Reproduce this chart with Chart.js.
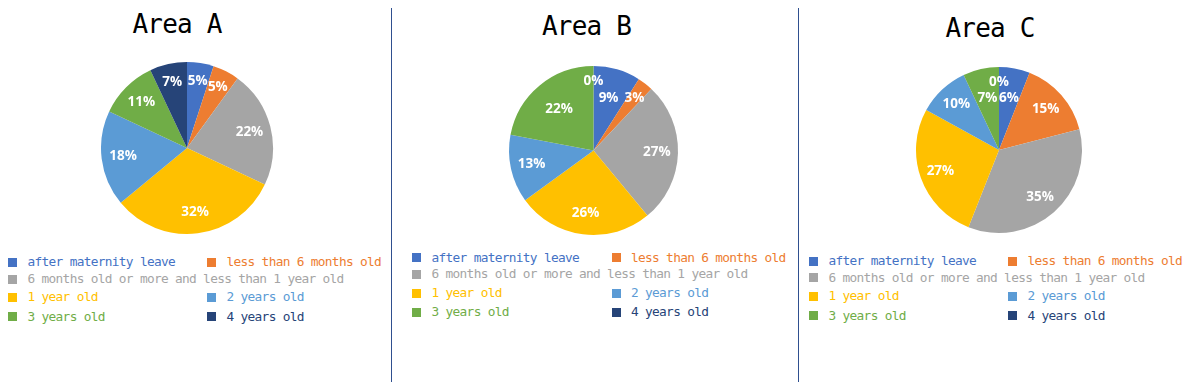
<!DOCTYPE html>
<html>
<head>
<meta charset="utf-8">
<script src="https://cdn.jsdelivr.net/npm/chart.js@4/dist/chart.umd.min.js"></script>
<style>
  html, body { margin: 0; padding: 0; background: #fff; }
  #stage { position: relative; width: 1198px; height: 392px; overflow: hidden; background: #fff; }
  .title { position: absolute; width: 200px; text-align: center; font-family: "DejaVu Sans Mono", "Liberation Mono", monospace; font-size: 26px; line-height: 30px; letter-spacing: -0.8px; color: #000; }
  .pie { position: absolute; }
  .leg { position: absolute; height: 18px; line-height: 18px; display: flex; align-items: center; white-space: nowrap; font-family: "DejaVu Sans Mono", "Liberation Mono", monospace; font-size: 12.8px; letter-spacing: -0.68px; }
  .leg i { display: inline-block; width: 9px; height: 9px; margin-right: 10.5px; }
  .divider { position: absolute; width: 1px; background: #2f4f8f; }
</style>
</head>
<body>
<div id="stage"></div>
<script>
// ---- data ----
const categories = [
  "after maternity leave",
  "less than 6 months old",
  "6 months old or more and less than 1 year old",
  "1 year old",
  "2 years old",
  "3 years old",
  "4 years old"
];
const areaTitles = ["Area A", "Area B", "Area C"];
const areaA = [5, 5, 22, 32, 18, 11, 7];
const areaB = [9, 3, 27, 26, 13, 22, 0];
const areaC = [6, 15, 35, 27, 10, 7, 0];

// ---- styles / layout ----
const colors = ["#4472C4", "#ED7D31", "#A5A5A5", "#FFC000", "#5B9BD5", "#70AD47", "#264478"];
const panels = [
  { values: areaA, cx: 187,   cy: 148,   r: 86,   titleX: 177,   titleTop: 9,
    legCol: [8, 207],   legRows: [262, 279.3, 297.3, 316.5] },
  { values: areaB, cx: 593.5, cy: 150.5, r: 84.5, titleX: 586.5, titleTop: 11,
    legCol: [412, 611.5], legRows: [257.7, 274.3, 293, 312.3] },
  { values: areaC, cx: 999,   cy: 150,   r: 83,   titleX: 990,   titleTop: 12.5,
    legCol: [809, 1008], legRows: [261, 277.7, 296.3, 315.8] }
];
// legend grid: [row, col] per category
const legendSlots = [[0,0],[0,1],[1,0],[2,0],[2,1],[3,0],[3,1]];
const dividers = [{ x: 391, top: 8, bottom: 382 }, { x: 798, top: 8, bottom: 382 }];

const stage = document.getElementById('stage');

dividers.forEach(d => {
  const el = document.createElement('div');
  el.className = 'divider';
  el.style.left = d.x + 'px';
  el.style.top = d.top + 'px';
  el.style.height = (d.bottom - d.top) + 'px';
  stage.appendChild(el);
});

// percentage labels: zero-size slices sit near the rim, their neighbours are pulled inward
const pctLabels = {
  id: 'pctLabels',
  afterDatasetsDraw(chart) {
    const ctx = chart.ctx;
    const ds = chart.data.datasets[0];
    const vals = ds.data;
    const n = vals.length;
    const total = vals.reduce((a, b) => a + b, 0);
    const meta = chart.getDatasetMeta(0);
    ctx.save();
    ctx.font = 'bold 13.5px "Open Sans", "DejaVu Sans", sans-serif';
    ctx.fillStyle = '#fff';
    ctx.textAlign = 'center';
    ctx.textBaseline = 'middle';
    meta.data.forEach((arc, i) => {
      const p = arc.getProps(['x', 'y', 'startAngle', 'endAngle', 'outerRadius'], true);
      const mid = (p.startAngle + p.endAngle) / 2;
      let f = 0.75;
      if (vals[i] === 0) f = 0.82;
      else if (vals[(i + 1) % n] === 0 || vals[(i - 1 + n) % n] === 0) f = 0.64;
      else if (vals[i] / total < 0.08) f = 0.79;
      const d = p.outerRadius * f;
      const tx = p.x + Math.cos(mid) * d;
      const ty = p.y + Math.sin(mid) * d;
      ctx.fillText(Math.round(vals[i] / total * 100) + '%', tx, ty);
    });
    ctx.restore();
  }
};

panels.forEach((pn, k) => {
  const t = document.createElement('div');
  t.className = 'title';
  t.textContent = areaTitles[k];
  t.style.left = (pn.titleX - 100) + 'px';
  t.style.top = pn.titleTop + 'px';
  stage.appendChild(t);

  const pad = 2;
  const size = Math.round(pn.r * 2 + pad * 2);
  const wrap = document.createElement('div');
  wrap.className = 'pie';
  wrap.style.left = (pn.cx - size / 2) + 'px';
  wrap.style.top = (pn.cy - size / 2) + 'px';
  wrap.style.width = size + 'px';
  wrap.style.height = size + 'px';
  const cv = document.createElement('canvas');
  wrap.appendChild(cv);
  stage.appendChild(wrap);

  new Chart(cv, {
    type: 'pie',
    data: {
      labels: categories,
      datasets: [{ data: pn.values, backgroundColor: colors, borderWidth: 0 }]
    },
    options: {
      responsive: true,
      maintainAspectRatio: false,
      animation: false,
      layout: { padding: pad },
      plugins: { legend: { display: false }, tooltip: { enabled: false }, title: { display: false } }
    },
    plugins: [pctLabels]
  });

  categories.forEach((name, i) => {
    const [row, col] = legendSlots[i];
    const el = document.createElement('div');
    el.className = 'leg';
    el.style.left = pn.legCol[col] + 'px';
    el.style.top = (pn.legRows[row] - 9) + 'px';
    el.style.color = colors[i];
    const sw = document.createElement('i');
    sw.style.background = colors[i];
    el.appendChild(sw);
    el.appendChild(document.createTextNode(name));
    stage.appendChild(el);
  });
});
</script>
</body>
</html>
